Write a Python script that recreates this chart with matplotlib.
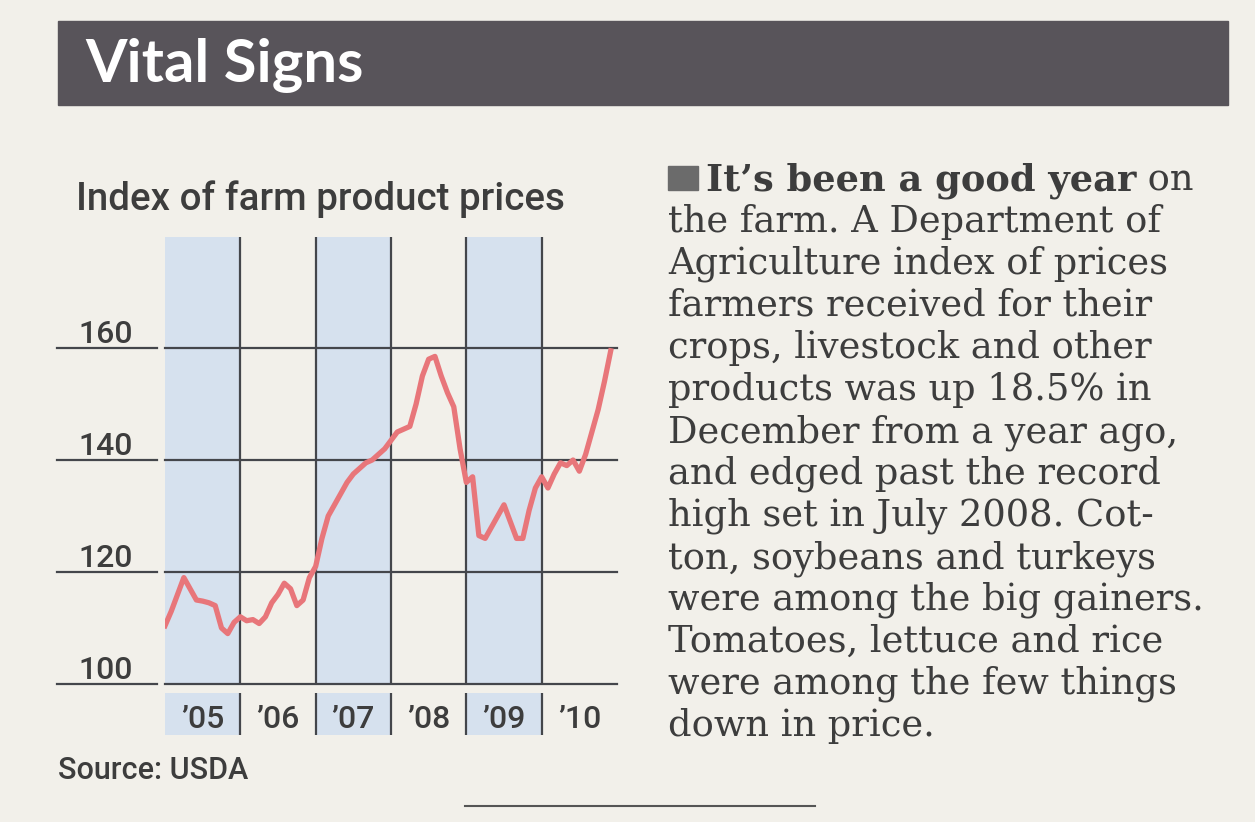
import matplotlib
matplotlib.use("Agg")
import matplotlib.pyplot as plt
from matplotlib.patches import Rectangle

# figure in pixels
W, H = 1255, 822

# monthly USDA index of prices received, Jan 2005 .. Dec 2010
prices_2005 = [110.4, 113, 116, 119, 117, 115, 114.8, 114.5, 114, 110, 109, 111]
prices_2006 = [112, 111.3, 111.5, 110.8, 112, 114.5, 116, 118, 117, 114, 115, 119]
prices_2007 = [121, 126, 130, 132, 134, 136, 137.5, 138.5, 139.5, 140, 141, 142]
prices_2008 = [143.5, 145, 145.5, 146, 150, 155, 158, 158.5, 155, 152, 149.5, 142]
prices_2009 = [136, 137, 126.5, 126, 128, 130, 132, 129, 126, 126, 131, 135]
prices_2010 = [137, 135, 137.5, 139.5, 139, 140, 138, 141, 145, 149, 154, 159.5]
prices = prices_2005 + prices_2006 + prices_2007 + prices_2008 + prices_2009 + prices_2010
years = [2005, 2006, 2007, 2008, 2009, 2010]
year_labels = ["’05", "’06", "’07", "’08", "’09", "’10"]
shaded_years = [2005, 2007, 2009]
yticks = [100, 120, 140, 160]

body_lines = [
    "the farm. A Department of",
    "Agriculture index of prices",
    "farmers received for their",
    "crops, livestock and other",
    "products was up 18.5% in",
    "December from a year ago,",
    "and edged past the record",
    "high set in July 2008. Cot-",
    "ton, soybeans and turkeys",
    "were among the big gainers.",
    "Tomatoes, lettuce and rice",
    "were among the few things",
    "down in price.",
]

paper = "#f2f0ea"
ink = "#3d3d3d"
grid_c = "#44464b"
shade = "#d6e1ee"
red = "#e8767a"
cond = ["Liberation Sans Narrow", "Roboto", "DejaVu Sans"]


def px_rect(l, t, r, b):
    return [l / W, 1 - b / H, (r - l) / W, (b - t) / H]


fig = plt.figure(figsize=(W / 100, H / 100), dpi=100)
fig.patch.set_facecolor(paper)

# header band
fig.patches.append(Rectangle((58 / W, 1 - 105 / H), (1228 - 58) / W, (105 - 21) / H,
                             transform=fig.transFigure, color="#58545a", zorder=0))
fig.text(85 / W, 1 - 82 / H, "Vital Signs", color="white", fontsize=43,
         fontweight="bold", family=["Lato", "DejaVu Sans"], va="baseline")

# chart title and source
fig.text(76 / W, 1 - 210 / H, "Index of farm product prices", color=ink,
         fontsize=27.7, fontweight="medium", family=cond, va="baseline")
fig.text(58 / W, 1 - 779 / H, "Source: USDA", color=ink, fontsize=22,
         fontweight="medium", family=cond, va="baseline")

# chart axes: x in years, y in index points; plot area 165..617 x 237..684 px
px_per_unit = (684 - 348) / 60.0
ytop = 100 + (684 - 237) / px_per_unit
ybot = 100 - (735 - 684) / px_per_unit
ax = fig.add_axes(px_rect(165, 237, 617, 735))
ax.set_xlim(2005, 2011)
ax.set_ylim(ybot, ytop)
ax.axis("off")

label_top = 100 - (693 - 684) / px_per_unit
for yr in shaded_years:
    ax.fill_between([yr, yr + 1], 100, ytop, color=shade, lw=0, zorder=0)
    ax.fill_between([yr, yr + 1], ybot, label_top, color=shade, lw=0, zorder=0)

for yr in years[1:]:
    ax.plot([yr, yr], [100, ytop], color=grid_c, lw=1.6, zorder=1, solid_capstyle="butt")
    ax.plot([yr, yr], [ybot, label_top], color=grid_c, lw=1.6, zorder=1, solid_capstyle="butt")

for v in yticks:
    ax.plot([2005, 2011], [v, v], color=grid_c, lw=1.6, zorder=1, clip_on=False)
    # short rule under the tick label, left of the chart
    ax.plot([-108 / 452, -8 / 452], [v, v], color=grid_c, lw=1.6,
            transform=ax.get_yaxis_transform(), clip_on=False)
    ax.text(-87 / 452, v + 5 / px_per_unit, str(v), transform=ax.get_yaxis_transform(),
            fontsize=23, fontweight="medium", color=ink, family=cond,
            va="baseline", ha="left")

for yr, lab in zip(years, year_labels):
    ax.text(yr + 0.5, 100 - (728 - 684) / px_per_unit, lab, fontsize=23,
            fontweight="medium", color=ink, family=cond, ha="center", va="baseline")

months = [2005 + i / 12.0 for i in range(len(prices))]
ax.plot(months, prices, color=red, lw=3.8, zorder=3, solid_joinstyle="round")

# text column on the right
lead_y = 1 - 190 / H
fig.patches.append(Rectangle((668 / W, 1 - 190 / H), 30 / W, 24 / H,
                             transform=fig.transFigure, color="#6b6b6b"))
t = fig.text(706 / W, lead_y, "It’s been a good year", fontsize=26.5, fontweight="bold",
             family="DejaVu Serif", color=ink, va="baseline")
fig.canvas.draw()
bb = t.get_window_extent()
fig.text(bb.x1 / W, lead_y, " on", fontsize=26.5, family="DejaVu Serif", color=ink,
         va="baseline")
for i, line in enumerate(body_lines):
    fig.text(668 / W, 1 - (190 + 42 * (i + 1)) / H, line, fontsize=26.5,
             family="DejaVu Serif", color=ink, va="baseline")

# small rule at the foot
fig.add_artist(plt.Line2D([465 / W, 815 / W], [1 - 806 / H, 1 - 806 / H],
                          color="#555555", lw=1.5))

fig.savefig("out.png", dpi=100, facecolor=paper)
